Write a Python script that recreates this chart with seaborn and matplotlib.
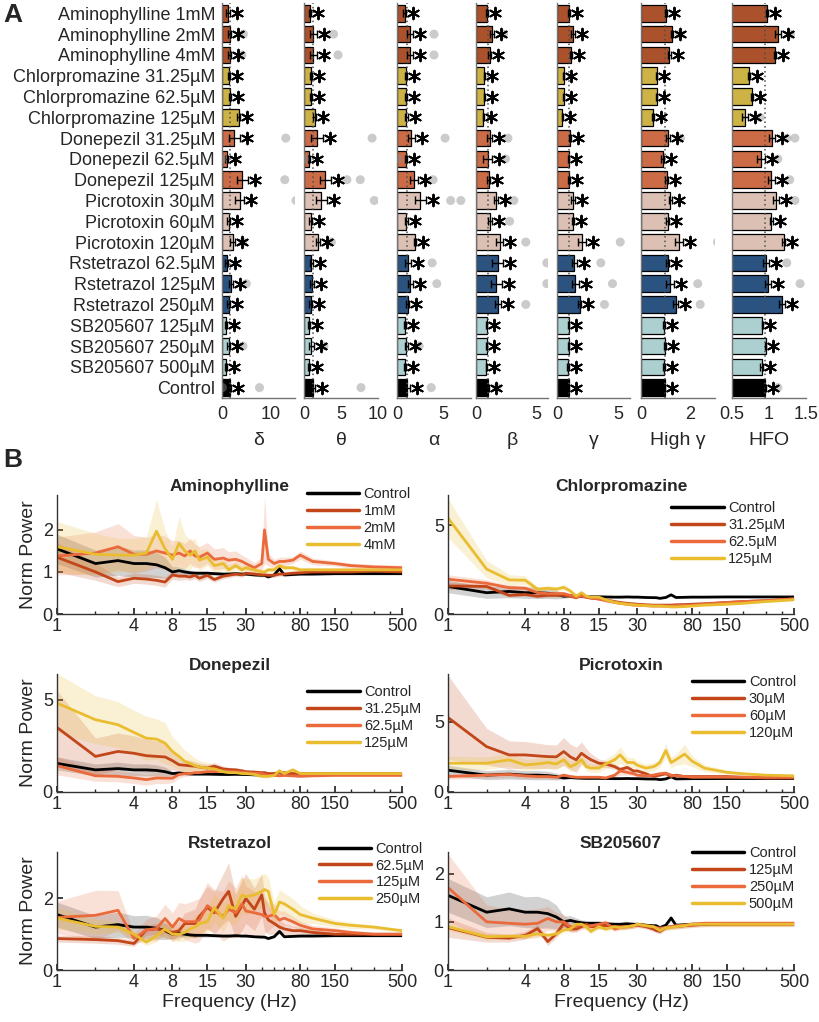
import numpy as np
import pandas as pd
import matplotlib
matplotlib.use("Agg")
import matplotlib.pyplot as plt
import matplotlib.transforms as mtransforms
from matplotlib.lines import Line2D
import seaborn as sns

sns.set_theme(style="ticks")
plt.rcParams['font.family'] = ['Liberation Sans', 'DejaVu Sans']

# ------------------------------
# Panel A data (band power, normalised)
# ------------------------------
rows = ["Aminophylline 1mM", "Aminophylline 2mM", "Aminophylline 4mM",
        "Chlorpromazine 31.25µM", "Chlorpromazine 62.5µM", "Chlorpromazine 125µM",
        "Donepezil 31.25µM", "Donepezil 62.5µM", "Donepezil 125µM",
        "Picrotoxin 30µM", "Picrotoxin 60µM", "Picrotoxin 120µM",
        "Rstetrazol 62.5µM", "Rstetrazol 125µM", "Rstetrazol 250µM",
        "SB205607 125µM", "SB205607 250µM", "SB205607 500µM", "Control"]
row_colors = (["#C04A17"] * 3 + ["#E3C030"] * 3 + ["#E26230"] * 3 + ["#E2BDAC"] * 3
              + ["#1C5290"] * 3 + ["#A6D5D5"] * 3 + ["#000000"])

delta_mean = [1.15, 1.55, 1.55, 1.5, 1.7, 3.4, 2.5, 1.0, 4.2, 3.6, 1.4, 2.2, 1.0, 1.8, 1.4, 0.75, 1.4, 0.8, 1.55]
delta_err = [0.4, 0.3, 0.35, 0.2, 0.2, 0.4, 1.1, 0.3, 1.2, 1.0, 0.3, 0.5, 0.3, 0.4, 0.3, 0.2, 0.3, 0.2, 0.3]
delta_dots = [(1, 4.4), (2, 4.1), (6, 13.1), (7, 0.05), (8, 12.9), (9, 15.2), (11, 4.3),
              (13, 5.0), (16, 4.3), (18, 7.7), (18, 0.1)]

theta_mean = [0.8, 1.24, 1.24, 0.9, 0.93, 1.47, 1.8, 0.7, 2.9, 2.35, 0.93, 1.9, 1.0, 1.1, 0.9, 0.67, 1.0, 0.67, 1.15]
theta_err = [0.15, 0.45, 0.45, 0.15, 0.15, 0.2, 0.8, 0.15, 0.8, 0.75, 0.2, 0.25, 0.2, 0.3, 0.2, 0.15, 0.3, 0.15, 0.35]
theta_dots = [(1, 4.0), (2, 4.6), (6, 9.2), (7, 0.1), (8, 5.8), (8, 7.6), (9, 9.5),
              (11, 3.7), (16, 2.7), (18, 7.7)]

alpha_mean = [0.83, 1.38, 1.38, 1.0, 1.0, 1.0, 1.56, 1.0, 1.85, 2.54, 1.0, 1.96, 1.2, 1.45, 1.16, 0.83, 1.0, 0.9, 1.09]
alpha_err = [0.15, 0.35, 0.35, 0.1, 0.1, 0.15, 0.4, 0.1, 0.45, 0.6, 0.15, 0.1, 0.35, 0.3, 0.15, 0.1, 0.15, 0.1, 0.3]
alpha_dots = [(1, 4.0), (2, 4.0), (6, 5.2), (7, 0.1), (8, 3.9), (9, 5.8), (9, 6.9),
              (12, 3.8), (13, 4.3), (16, 2.4), (18, 3.7)]

beta_mean = [0.9, 1.33, 1.13, 0.68, 0.68, 0.62, 1.13, 0.96, 1.05, 1.67, 1.19, 1.98, 1.81, 1.7, 1.81, 0.9, 0.9, 0.85, 0.96]
beta_err = [0.1, 0.15, 0.1, 0.05, 0.05, 0.05, 0.2, 0.35, 0.1, 0.15, 0.15, 0.3, 0.45, 0.45, 0.25, 0.05, 0.05, 0.05, 0.1]
beta_dots = [(1, 2.3), (6, 2.66), (7, 2.46), (9, 3.16), (10, 2.8), (11, 4.15), (12, 5.9),
             (13, 5.9), (14, 4.15), (18, 1.75)]

gamma_mean = [0.96, 1.31, 1.15, 0.55, 0.55, 0.44, 1.09, 0.96, 1.01, 1.31, 1.31, 2.05, 1.42, 1.5, 1.86, 0.96, 0.96, 0.9, 0.96]
gamma_err = [0.08, 0.15, 0.1, 0.05, 0.05, 0.05, 0.1, 0.05, 0.08, 0.15, 0.1, 0.3, 0.2, 0.3, 0.1, 0.05, 0.05, 0.05, 0.05]
gamma_dots = [(11, 5.2), (12, 3.6), (13, 4.56), (14, 3.9)]

highg_mean = [1.01, 1.25, 1.15, 0.63, 0.63, 0.49, 1.11, 0.88, 1.04, 1.19, 1.08, 1.54, 1.08, 1.17, 1.4, 0.94, 0.97, 0.94, 0.96]
highg_err = [0.03, 0.05, 0.05, 0.03, 0.03, 0.03, 0.08, 0.05, 0.05, 0.05, 0.05, 0.17, 0.05, 0.15, 0.12, 0.03, 0.03, 0.03, 0.03]
highg_dots = [(1, 1.57), (6, 1.6), (11, 3.1), (13, 2.3), (14, 2.4)]

hfo_mean = [0.975, 1.12, 1.08, 0.73, 0.77, 0.68, 1.04, 0.89, 1.03, 1.09, 1.03, 1.2, 0.96, 0.99, 1.18, 0.91, 0.955, 0.9, 0.95]
hfo_err = [0.01, 0.04, 0.01, 0.02, 0.01, 0.04, 0.04, 0.05, 0.05, 0.04, 0.02, 0.02, 0.04, 0.04, 0.04, 0.01, 0.01, 0.02, 0.01]
hfo_dots = [(1, 1.29), (5, 0.88), (6, 1.24), (6, 1.35), (7, 1.12), (8, 1.28), (9, 1.35),
            (12, 1.24), (13, 1.42), (18, 1.12)]

band_names = ["δ", "θ", "α", "β", "γ", "High γ", "HFO"]
band_lims = [(0, 15), (0, 10), (0, 8), (0, 6), (0, 6), (0, 3), (0.5, 1.5)]
band_ticks = [[0, 10], [0, 5, 10], [0, 5], [0, 5], [0, 5], [0, 2], [0.5, 1, 1.5]]
band_ticklabels = [["0", "10"], ["0", "5", "10"], ["0", "5"], ["0", "5"], ["0", "5"], ["0", "2"], ["0.5", "1", "1.5"]]

# ------------------------------
# Panel B data (normalised spectra)
# ------------------------------
freq = [1, 2, 3, 4, 5, 6, 7, 8, 9, 10,
        11, 12, 13, 15, 17, 20, 22, 25, 28, 30,
        35, 40, 42, 45, 50, 55, 60, 70, 80, 100,
        150, 200, 300, 500]

control_mean = [1.55, 1.20, 1.27, 1.20, 1.20, 1.17, 1.10, 1.00, 1.03, 1.00,
                0.98, 0.97, 0.97, 0.97, 0.96, 0.95, 0.95, 0.96, 0.95, 0.95,
                0.93, 0.92, 0.92, 0.88, 0.93, 1.08, 0.93, 0.94, 0.95, 0.95,
                0.96, 0.96, 0.96, 0.96]
control_sem = [0.35, 0.32, 0.35, 0.32, 0.33, 0.30, 0.25, 0.12, 0.10, 0.08,
               0.06, 0.06, 0.05, 0.05, 0.04, 0.04, 0.04, 0.04, 0.03, 0.03,
               0.03, 0.03, 0.03, 0.03, 0.03, 0.05, 0.03, 0.03, 0.03, 0.03,
               0.03, 0.03, 0.03, 0.03]

amino_1_mean = [1.35, 1.00, 0.77, 0.85, 0.83, 0.80, 0.76, 0.93, 0.90, 0.90,
                0.88, 0.92, 0.85, 0.92, 0.82, 0.90, 0.92, 0.95, 0.93, 0.97,
                0.95, 0.93, 0.93, 0.92, 0.92, 0.95, 0.95, 0.97, 0.98, 1.00,
                1.00, 1.00, 1.02, 1.00]
amino_1_sem = [0.35, 0.20, 0.12, 0.12, 0.12, 0.12, 0.12, 0.10, 0.10, 0.08,
               0.08, 0.08, 0.08, 0.07, 0.07, 0.06, 0.06, 0.05, 0.05, 0.05,
               0.05, 0.05, 0.05, 0.05, 0.05, 0.05, 0.05, 0.05, 0.05, 0.05,
               0.05, 0.05, 0.05, 0.05]
amino_2_mean = [1.38, 1.45, 1.60, 1.42, 1.42, 1.50, 1.45, 1.40, 1.45, 1.38,
                1.50, 1.38, 1.35, 1.45, 1.30, 1.33, 1.28, 1.30, 1.25, 1.20,
                1.10, 1.20, 2.00, 1.30, 1.20, 1.25, 1.25, 1.28, 1.40, 1.25,
                1.20, 1.15, 1.12, 1.10]
amino_2_sem = [0.45, 0.50, 0.55, 0.45, 0.40, 0.40, 0.40, 0.35, 0.30, 0.30,
               0.30, 0.28, 0.25, 0.25, 0.25, 0.25, 0.20, 0.20, 0.15, 0.15,
               0.12, 0.15, 0.80, 0.15, 0.10, 0.10, 0.10, 0.08, 0.10, 0.08,
               0.06, 0.06, 0.06, 0.06]
amino_4_mean = [1.60, 1.42, 1.40, 1.40, 1.45, 1.97, 1.55, 1.30, 1.68, 1.50,
                1.40, 1.50, 1.28, 1.35, 1.15, 1.20, 1.05, 1.15, 1.05, 1.10,
                1.05, 1.00, 1.00, 1.05, 1.05, 1.15, 1.10, 1.10, 1.05, 1.05,
                1.05, 1.05, 1.05, 1.05]
amino_4_sem = [0.60, 0.50, 0.40, 0.40, 0.40, 0.75, 0.45, 0.30, 0.65, 0.40,
               0.35, 0.30, 0.25, 0.20, 0.18, 0.15, 0.12, 0.10, 0.10, 0.08,
               0.07, 0.07, 0.07, 0.07, 0.07, 0.07, 0.06, 0.06, 0.06, 0.06,
               0.05, 0.05, 0.05, 0.05]

chlor_1_mean = [1.58, 1.55, 1.05, 1.10, 1.00, 1.05, 1.05, 1.05, 1.00, 0.92,
                1.10, 0.95, 0.90, 0.85, 0.80, 0.70, 0.65, 0.60, 0.57, 0.55,
                0.52, 0.50, 0.50, 0.50, 0.50, 0.50, 0.52, 0.53, 0.55, 0.58,
                0.65, 0.70, 0.75, 0.85]
chlor_1_sem = [0.20, 0.15, 0.10, 0.10, 0.10, 0.10, 0.10, 0.08, 0.08, 0.08,
               0.08, 0.07, 0.07, 0.06, 0.06, 0.05, 0.05, 0.05, 0.05, 0.05,
               0.05, 0.05, 0.05, 0.05, 0.05, 0.05, 0.05, 0.05, 0.05, 0.05,
               0.05, 0.05, 0.05, 0.05]
chlor_2_mean = [1.96, 1.73, 1.48, 1.45, 1.20, 1.15, 1.15, 1.15, 1.05, 0.95,
                1.00, 0.95, 0.90, 0.85, 0.75, 0.65, 0.60, 0.55, 0.50, 0.50,
                0.47, 0.45, 0.45, 0.45, 0.45, 0.45, 0.47, 0.48, 0.50, 0.55,
                0.65, 0.70, 0.75, 0.85]
chlor_2_sem = [0.25, 0.20, 0.15, 0.15, 0.12, 0.10, 0.10, 0.10, 0.08, 0.08,
               0.08, 0.07, 0.07, 0.06, 0.06, 0.05, 0.05, 0.05, 0.05, 0.05,
               0.05, 0.05, 0.05, 0.05, 0.05, 0.05, 0.05, 0.05, 0.05, 0.05,
               0.05, 0.05, 0.05, 0.05]
chlor_3_mean = [5.40, 2.53, 1.92, 1.90, 1.39, 1.45, 1.40, 1.50, 1.30, 1.00,
                1.20, 1.00, 0.95, 0.95, 0.80, 0.65, 0.60, 0.55, 0.52, 0.50,
                0.47, 0.45, 0.45, 0.45, 0.43, 0.40, 0.40, 0.42, 0.45, 0.50,
                0.55, 0.60, 0.70, 0.80]
chlor_3_sem = [1.10, 0.50, 0.30, 0.25, 0.15, 0.15, 0.15, 0.15, 0.10, 0.10,
               0.10, 0.08, 0.08, 0.07, 0.06, 0.06, 0.05, 0.05, 0.05, 0.05,
               0.05, 0.05, 0.05, 0.05, 0.05, 0.05, 0.05, 0.05, 0.05, 0.05,
               0.05, 0.05, 0.05, 0.05]

done_1_mean = [3.50, 1.93, 2.20, 2.10, 1.97, 1.93, 1.90, 1.70, 1.48, 1.45,
               1.42, 1.40, 1.35, 1.30, 1.40, 1.25, 1.22, 1.20, 1.15, 1.10,
               1.08, 1.05, 1.05, 1.00, 1.00, 1.05, 1.05, 1.00, 1.00, 1.00,
               1.00, 1.00, 1.00, 1.00]
done_1_sem = [2.00, 1.00, 1.00, 0.95, 0.90, 0.85, 0.80, 0.50, 0.40, 0.30,
              0.30, 0.25, 0.22, 0.20, 0.20, 0.15, 0.12, 0.12, 0.10, 0.10,
              0.10, 0.08, 0.08, 0.08, 0.08, 0.08, 0.08, 0.06, 0.06, 0.06,
              0.06, 0.06, 0.06, 0.06]
done_2_mean = [1.43, 0.88, 0.85, 0.76, 0.67, 0.76, 0.75, 0.75, 0.95, 1.00,
               1.00, 1.05, 1.05, 1.10, 1.10, 1.15, 1.12, 1.10, 1.08, 1.05,
               1.02, 1.00, 0.95, 0.90, 0.90, 0.88, 0.90, 0.88, 0.85, 0.88,
               0.90, 0.90, 0.90, 0.90]
done_2_sem = [0.50, 0.30, 0.30, 0.30, 0.30, 0.30, 0.30, 0.25, 0.20, 0.15,
              0.12, 0.10, 0.10, 0.10, 0.10, 0.08, 0.08, 0.08, 0.08, 0.08,
              0.06, 0.06, 0.06, 0.06, 0.06, 0.06, 0.06, 0.06, 0.06, 0.06,
              0.06, 0.06, 0.06, 0.06]
done_3_mean = [4.82, 3.92, 3.65, 3.23, 2.92, 2.87, 2.65, 2.20, 1.93, 1.66,
               1.55, 1.43, 1.35, 1.30, 1.25, 1.10, 1.05, 1.05, 1.00, 1.00,
               0.95, 0.85, 0.85, 0.85, 0.90, 1.15, 1.00, 1.20, 1.00, 1.00,
               1.00, 1.00, 1.00, 1.00]
done_3_sem = [1.60, 1.30, 1.25, 1.20, 1.20, 1.10, 1.10, 0.80, 0.70, 0.60,
              0.50, 0.40, 0.35, 0.30, 0.25, 0.20, 0.15, 0.12, 0.10, 0.10,
              0.08, 0.08, 0.08, 0.08, 0.08, 0.08, 0.08, 0.08, 0.06, 0.06,
              0.06, 0.06, 0.06, 0.06]

picro_1_mean = [5.30, 3.23, 2.64, 2.64, 2.57, 2.52, 2.50, 2.88, 2.50, 2.29,
                2.76, 2.50, 2.30, 2.05, 2.00, 1.80, 1.60, 1.75, 1.50, 1.50,
                1.30, 1.10, 1.15, 1.20, 1.30, 1.10, 1.20, 1.10, 1.10, 1.10,
                1.10, 1.05, 1.00, 1.00]
picro_1_sem = [3.00, 1.30, 1.00, 0.95, 0.90, 0.85, 0.85, 1.00, 0.90, 0.90,
               0.80, 0.60, 0.45, 0.30, 0.25, 0.20, 0.18, 0.15, 0.12, 0.10,
               0.10, 0.08, 0.08, 0.08, 0.08, 0.08, 0.08, 0.08, 0.06, 0.06,
               0.06, 0.06, 0.06, 0.06]
picro_2_mean = [1.10, 1.20, 1.25, 1.15, 1.10, 1.10, 1.05, 1.20, 1.10, 1.05,
                1.05, 1.05, 1.05, 1.05, 1.00, 1.20, 1.50, 1.40, 1.30, 1.20,
                1.15, 1.20, 1.25, 1.30, 1.35, 1.20, 1.15, 1.10, 1.05, 1.05,
                1.05, 1.05, 1.05, 1.05]
picro_2_sem = [0.20, 0.20, 0.20, 0.18, 0.15, 0.15, 0.15, 0.15, 0.12, 0.12,
               0.10, 0.10, 0.10, 0.10, 0.10, 0.15, 0.30, 0.20, 0.15, 0.12,
               0.10, 0.10, 0.10, 0.10, 0.10, 0.08, 0.08, 0.06, 0.06, 0.05,
               0.05, 0.05, 0.05, 0.05]
picro_3_mean = [2.05, 2.05, 2.29, 1.93, 2.00, 2.10, 2.00, 2.29, 1.80, 2.00,
                2.30, 1.80, 1.70, 1.70, 2.00, 2.30, 2.64, 2.10, 2.10, 1.90,
                1.70, 1.80, 1.90, 2.10, 2.95, 2.10, 2.30, 2.70, 2.20, 1.70,
                1.40, 1.30, 1.20, 1.15]
picro_3_sem = [0.50, 0.45, 0.45, 0.40, 0.40, 0.40, 0.40, 0.40, 0.35, 0.35,
               0.35, 0.30, 0.30, 0.30, 0.35, 0.45, 0.60, 0.40, 0.35, 0.30,
               0.30, 0.30, 0.30, 0.35, 0.50, 0.40, 0.40, 0.70, 0.40, 0.25,
               0.15, 0.10, 0.08, 0.08]

rst_1_mean = [0.88, 0.85, 0.82, 0.74, 1.12, 1.15, 1.10, 1.05, 1.10, 1.30,
              1.30, 1.30, 1.50, 1.75, 1.60, 2.00, 2.20, 1.50, 1.80, 2.00,
              1.70, 2.10, 1.60, 1.40, 1.30, 1.20, 1.15, 1.10, 1.10, 1.05,
              1.00, 1.00, 1.00, 1.00]
rst_1_sem = [0.10, 0.10, 0.10, 0.08, 0.15, 0.15, 0.20, 0.20, 0.25, 0.30,
             0.35, 0.40, 0.50, 0.60, 0.60, 0.70, 0.80, 0.60, 0.70, 0.70,
             0.60, 0.60, 0.50, 0.40, 0.30, 0.20, 0.15, 0.12, 0.10, 0.08,
             0.06, 0.05, 0.05, 0.05]
rst_2_mean = [1.47, 1.53, 1.67, 0.88, 1.12, 1.16, 1.44, 1.20, 1.44, 1.35,
              1.35, 1.35, 1.40, 1.80, 1.65, 1.50, 1.70, 1.60, 1.85, 1.65,
              1.60, 1.55, 1.50, 1.50, 1.55, 1.40, 1.45, 1.35, 1.25, 1.15,
              1.10, 1.05, 1.00, 1.00]
rst_2_sem = [0.45, 0.70, 0.55, 0.15, 0.30, 0.35, 0.40, 0.40, 0.45, 0.50,
             0.55, 0.60, 0.60, 0.65, 0.60, 0.70, 0.80, 0.70, 0.80, 0.70,
             0.60, 0.60, 0.50, 0.40, 0.30, 0.25, 0.20, 0.15, 0.12, 0.10,
             0.08, 0.06, 0.05, 0.05]
rst_3_mean = [1.45, 1.22, 1.20, 1.00, 0.78, 0.95, 1.15, 1.00, 1.00, 1.05,
              1.15, 1.20, 1.30, 1.35, 1.75, 1.45, 1.80, 1.70, 2.10, 2.05,
              2.10, 2.20, 2.25, 2.20, 1.55, 1.90, 1.85, 1.70, 1.55, 1.45,
              1.30, 1.25, 1.20, 1.10]
rst_3_sem = [0.30, 0.20, 0.15, 0.12, 0.10, 0.15, 0.20, 0.20, 0.20, 0.25,
             0.25, 0.30, 0.30, 0.35, 0.40, 0.40, 0.45, 0.45, 0.50, 0.50,
             0.45, 0.45, 0.45, 0.40, 0.35, 0.35, 0.30, 0.30, 0.25, 0.15,
             0.10, 0.08, 0.06, 0.05]

sb_1_mean = [0.88, 0.68, 0.66, 0.72, 0.86, 0.59, 0.75, 0.97, 0.85, 0.85,
             0.90, 0.95, 0.90, 0.90, 0.92, 0.90, 0.90, 0.90, 0.92, 0.93,
             0.90, 0.85, 0.82, 0.80, 0.88, 0.90, 0.90, 0.92, 0.93, 0.95,
             0.95, 0.95, 0.95, 0.95]
sb_1_sem = [0.20, 0.10, 0.08, 0.08, 0.08, 0.08, 0.08, 0.08, 0.07, 0.06,
            0.06, 0.05, 0.05, 0.05, 0.05, 0.05, 0.05, 0.05, 0.05, 0.05,
            0.05, 0.05, 0.05, 0.05, 0.05, 0.05, 0.05, 0.05, 0.05, 0.05,
            0.05, 0.05, 0.05, 0.05]
sb_2_mean = [1.71, 1.00, 0.97, 0.95, 0.97, 1.07, 1.00, 1.00, 0.90, 0.90,
             0.95, 0.90, 0.92, 0.95, 0.98, 0.85, 0.88, 0.90, 0.92, 0.95,
             0.92, 0.90, 0.88, 0.87, 0.88, 0.90, 0.92, 0.93, 0.95, 0.97,
             0.97, 0.97, 0.97, 0.97]
sb_2_sem = [0.70, 0.35, 0.30, 0.30, 0.30, 0.25, 0.20, 0.15, 0.10, 0.10,
            0.08, 0.07, 0.07, 0.06, 0.06, 0.05, 0.05, 0.05, 0.05, 0.05,
            0.05, 0.05, 0.05, 0.05, 0.05, 0.05, 0.05, 0.05, 0.05, 0.05,
            0.05, 0.05, 0.05, 0.05]
sb_3_mean = [0.90, 0.69, 0.70, 0.70, 0.75, 0.72, 0.75, 0.83, 0.85, 0.95,
             0.95, 0.90, 0.80, 0.90, 0.85, 0.90, 0.88, 0.90, 0.92, 0.95,
             0.92, 0.90, 0.87, 0.82, 0.88, 0.88, 0.90, 0.92, 0.95, 0.95,
             0.95, 0.95, 0.95, 0.95]
sb_3_sem = [0.08, 0.06, 0.05, 0.05, 0.05, 0.05, 0.05, 0.05, 0.05, 0.05,
            0.05, 0.05, 0.05, 0.05, 0.05, 0.05, 0.05, 0.05, 0.05, 0.05,
            0.05, 0.05, 0.05, 0.05, 0.05, 0.05, 0.05, 0.05, 0.05, 0.05,
            0.05, 0.05, 0.05, 0.05]

drug_names = ["Aminophylline", "Chlorpromazine", "Donepezil", "Picrotoxin", "Rstetrazol", "SB205607"]
drug_doses = [["1mM", "2mM", "4mM"], ["31.25µM", "62.5µM", "125µM"], ["31.25µM", "62.5µM", "125µM"],
              ["30µM", "60µM", "120µM"], ["62.5µM", "125µM", "250µM"], ["125µM", "250µM", "500µM"]]
drug_means = [[amino_1_mean, amino_2_mean, amino_4_mean], [chlor_1_mean, chlor_2_mean, chlor_3_mean],
              [done_1_mean, done_2_mean, done_3_mean], [picro_1_mean, picro_2_mean, picro_3_mean],
              [rst_1_mean, rst_2_mean, rst_3_mean], [sb_1_mean, sb_2_mean, sb_3_mean]]
drug_sems = [[amino_1_sem, amino_2_sem, amino_4_sem], [chlor_1_sem, chlor_2_sem, chlor_3_sem],
             [done_1_sem, done_2_sem, done_3_sem], [picro_1_sem, picro_2_sem, picro_3_sem],
             [rst_1_sem, rst_2_sem, rst_3_sem], [sb_1_sem, sb_2_sem, sb_3_sem]]
drug_ylims = [2.83, 6.7, 6.4, 8.4, 3.3, 2.45]
drug_yticks = [[0, 1, 2], [0, 5], [0, 5], [0, 5], [0, 2], [0, 1, 2]]
legend_anchor = [(1.03, 1.08), (0.98, 0.96), (1.06, 0.92), (1.01, 1.0), (1.07, 1.1), (1.01, 1.06)]

dose_colors = ["#C2461A", "#EA6A3C", "#E9BD2F"]

# ------------------------------
# Figure
# ------------------------------
W, H = 820, 1022
fig = plt.figure(figsize=(W / 100, H / 100), dpi=100)

# Panel A: one axes per band
a_left = [222, 304, 397, 476, 557, 641, 732]
a_right = [295, 378, 471, 548, 630, 715, 806]
a_top, a_bot = 3, 398

bands = [(delta_mean, delta_err, delta_dots), (theta_mean, theta_err, theta_dots),
         (alpha_mean, alpha_err, alpha_dots), (beta_mean, beta_err, beta_dots),
         (gamma_mean, gamma_err, gamma_dots), (highg_mean, highg_err, highg_dots),
         (hfo_mean, hfo_err, hfo_dots)]

for i, (mean, err, dots) in enumerate(bands):
    ax = fig.add_axes([a_left[i] / W, 1 - a_bot / H, (a_right[i] - a_left[i]) / W, (a_bot - a_top) / H])
    df = pd.DataFrame({'cond': rows, 'val': mean})
    sns.barplot(data=df, x='val', y='cond', hue='cond', palette=row_colors, legend=False,
                orient='h', width=0.8, edgecolor='black', linewidth=0.9, errorbar=None, ax=ax)
    ypos = np.arange(len(rows))
    ax.errorbar(mean, ypos, xerr=err, fmt='none', ecolor='black', elinewidth=1.0,
                capsize=3, capthick=1.0, zorder=4)
    if dots:
        dd = pd.DataFrame(dots, columns=['row', 'val'])
        sns.scatterplot(data=dd, x='val', y='row', color='0.55', alpha=0.45, s=42,
                        edgecolor='none', ax=ax, zorder=5)
    ax.axvline(mean[-1], color='0.3', ls=(0, (1, 2)), lw=1.1, zorder=3)
    star_tr = mtransforms.offset_copy(ax.transData, fig=fig, x=7, y=0, units='dots')
    ax.scatter(np.array(mean) + np.array(err), ypos, marker=(6, 2, 0), s=70, color='black',
               linewidths=1.4, transform=star_tr, zorder=6, clip_on=False)

    ax.set_xlim(*band_lims[i])
    ax.set_ylim(len(rows) - 0.5, -0.5)
    ax.set_xticks(band_ticks[i])
    ax.set_xticklabels(band_ticklabels[i])
    ax.set_xlabel(band_names[i], fontsize=14, labelpad=6)
    ax.set_ylabel("")
    ax.tick_params(axis='x', labelsize=13, length=0, pad=6)
    ax.tick_params(axis='y', length=0, pad=5, labelsize=13)
    if i > 0:
        ax.set_yticklabels([])
    for s in ['top', 'right']:
        ax.spines[s].set_visible(False)
    for s in ['left', 'bottom']:
        ax.spines[s].set_color('0.45')
        ax.spines[s].set_linewidth(1.0)

# Panel B: spectra
b_left = [57, 448]
b_width = [345, 346]
b_rows = [(495, 614), (674, 792), (852, 970)]

for k, name in enumerate(drug_names):
    r, c = divmod(k, 2)
    top, bot = b_rows[r]
    ax = fig.add_axes([b_left[c] / W, 1 - bot / H, b_width[c] / W, (bot - top) / H])
    ax.set_xscale('log')

    series = [("Control", control_mean, control_sem, 'black', '0.5', 0.35)]
    for d in range(3):
        series.append((drug_doses[k][d], drug_means[k][d], drug_sems[k][d], dose_colors[d], dose_colors[d], 0.2))

    handles = []
    for label, m, s, col, shade, al in series:
        m = np.array(m)
        s = np.array(s)
        ax.fill_between(freq, m - s, m + s, color=shade, alpha=al, lw=0)
        sns.lineplot(x=freq, y=m, color=col, lw=2.0, ax=ax)
        handles.append(Line2D([], [], color=col, lw=2.5, label=label))

    ax.set_xlim(1, 500)
    ax.set_ylim(0, drug_ylims[k])
    ax.set_xticks([1, 4, 8, 15, 30, 80, 150, 500])
    ax.set_xticklabels(["1", "4", "8", "15", "30", "80", "150", "500"])
    ax.set_yticks(drug_yticks[k])
    ax.tick_params(axis='both', which='major', direction='in', length=4, labelsize=13, pad=3)
    ax.tick_params(axis='x', which='minor', direction='in', length=2.5)
    ax.set_title(name, fontsize=12.5, fontweight='bold', pad=3)
    if c == 0:
        ax.set_ylabel("Norm Power", fontsize=14, labelpad=4)
    else:
        ax.set_ylabel("")
    if r == 2:
        ax.set_xlabel("Frequency (Hz)", fontsize=14, labelpad=2)
    for s in ['top', 'right']:
        ax.spines[s].set_visible(False)
    for s in ['left', 'bottom']:
        ax.spines[s].set_color('0.2')
        ax.spines[s].set_linewidth(1.0)
    ax.legend(handles=handles, loc='upper right', bbox_to_anchor=legend_anchor[k], frameon=False,
              fontsize=10.5, handlelength=3.6, handletextpad=0.3, labelspacing=0.2,
              borderaxespad=0, borderpad=0.1)

fig.text(0.004, 0.985, "A", fontsize=19, fontweight='bold', va='center')
fig.text(0.004, 0.55, "B", fontsize=19, fontweight='bold', va='center')

fig.savefig("out.png", dpi=100)
